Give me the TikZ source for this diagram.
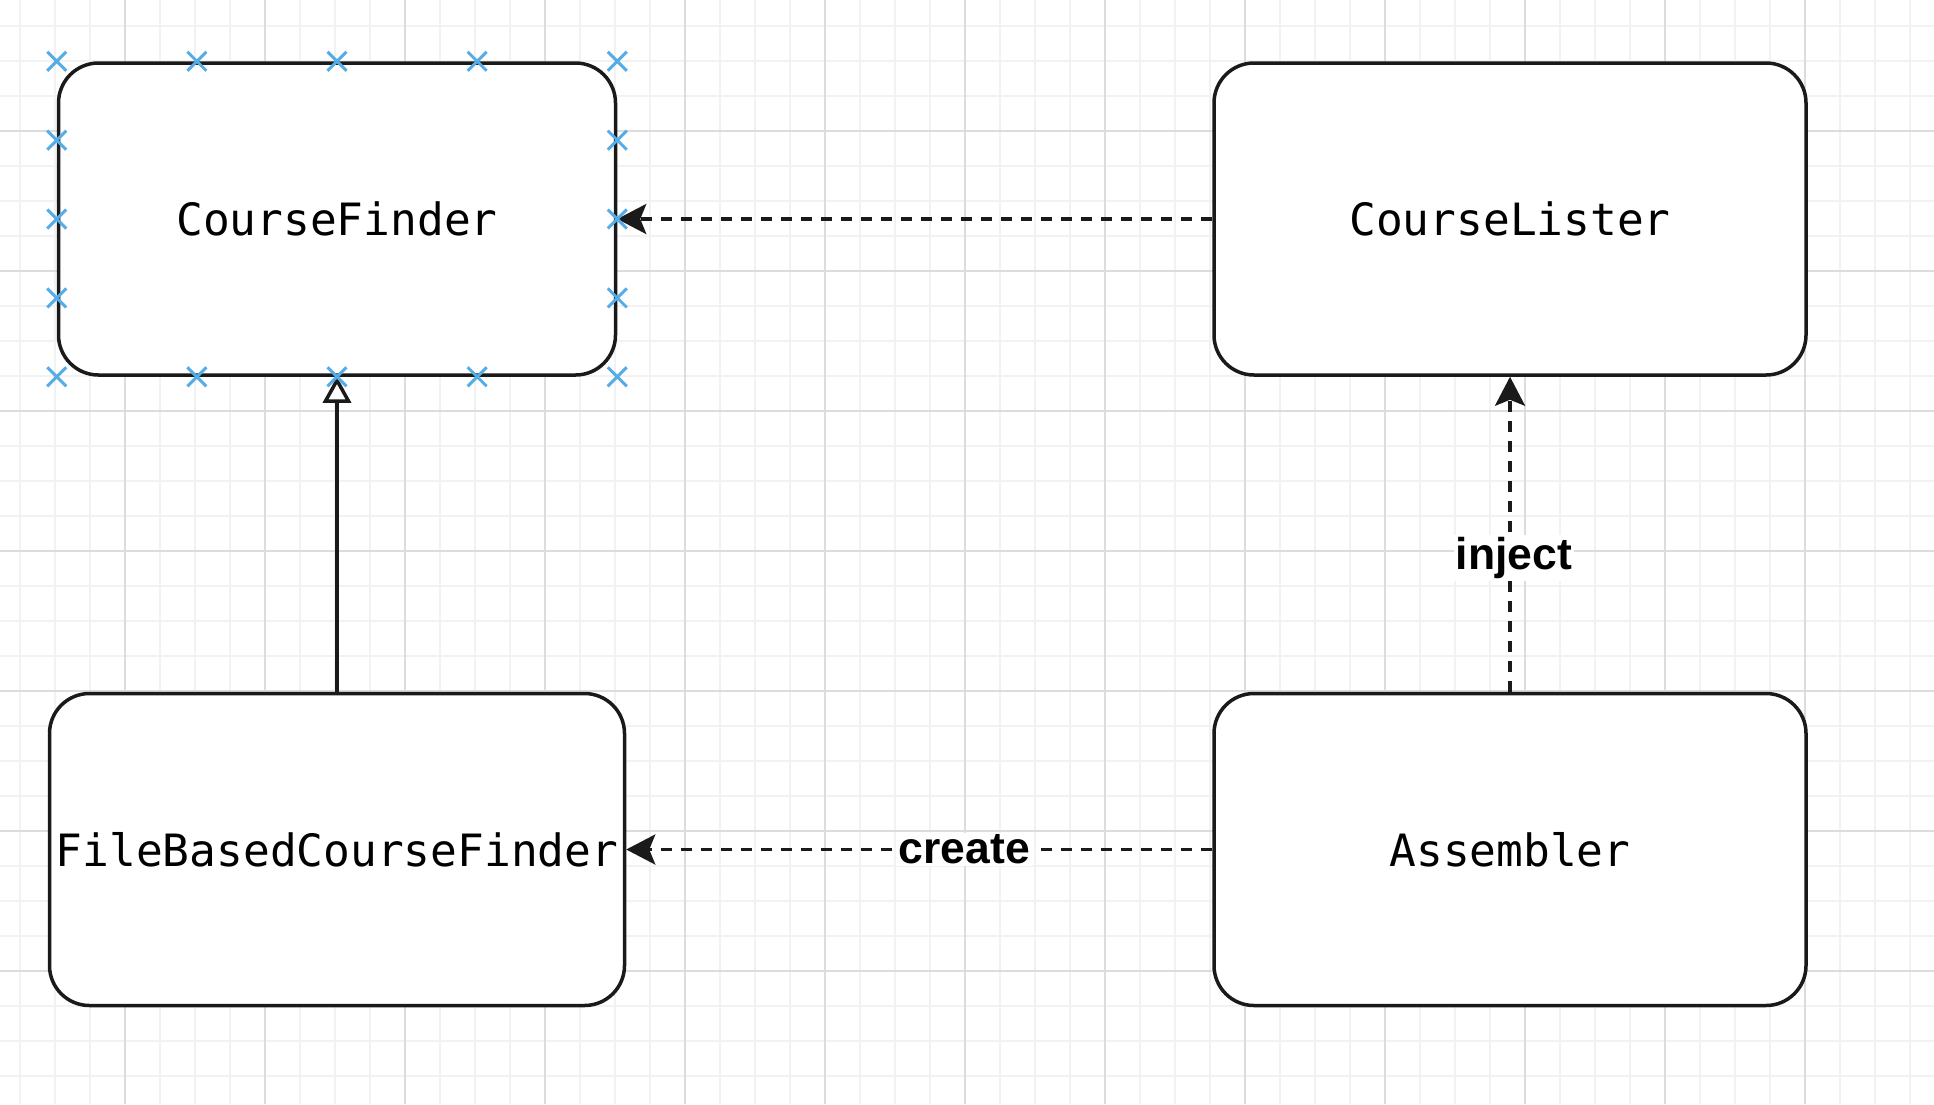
\documentclass[tikz,border=0pt]{standalone}
\usepackage{fontspec}
\usepackage{xcolor}
\usepackage{tikz}
\usetikzlibrary{positioning,arrows.meta,shapes.misc,calc}
\newfontfamily\boxfont{DejaVu Sans Mono}
\newfontfamily\lblfont{Liberation Sans}
\definecolor{blk}{HTML}{1A1A1A}
\definecolor{selblue}{HTML}{55ACE6}
\definecolor{gridmin}{HTML}{F2F2F2}
\definecolor{gridmaj}{HTML}{DCDCDC}
\tikzset{
  box/.style={draw=blk, line width=3.5pt, rounded corners=40pt, fill=white, minimum height=312pt,
              align=center, font={\boxfont\fontsize{44.5}{53}\selectfont}},
  lbl/.style={fill=white, inner sep=2pt, font={\lblfont\bfseries\fontsize{44.5}{53}\selectfont}},
  dep/.style={draw=blk, line width=3.5pt, dash pattern=on 11pt off 9pt,
              -{Stealth[length=29pt,width=30pt,inset=6pt]}},
  inh/.style={draw=blk, line width=3.5pt, -{Triangle[open,length=26pt,width=28pt,fill=white]}},
  handle/.style={cross out, draw=selblue, line width=3pt, minimum size=16pt, inner sep=0pt},
  gmin/.style={draw=gridmin, line width=2pt},
  gmaj/.style={draw=gridmaj, line width=2pt},
}
\begin{document}
\begin{tikzpicture}[x=1pt, y=-1pt, node distance=315pt and 595pt]
  \useasboundingbox (0,0) rectangle (1934,1104);
  \fill[white] (0,0) rectangle (1934,1104);
  \foreach \x in {20,55,...,1934} \draw[gmin] (\x,0) -- (\x,1104);
  \foreach \y in {26,61,...,1104} \draw[gmin] (0,\y) -- (1934,\y);
  \foreach \x in {125,265,...,1934} \draw[gmaj] (\x,0) -- (\x,1104);
  \foreach \y in {131,271,...,1104} \draw[gmaj] (0,\y) -- (1934,\y);

  \node[box, minimum width=557pt] (cf) at (337,219) {CourseFinder};
  \node[box, minimum width=592pt, right=of cf] (cl) {CourseLister};
  \node[box, minimum width=575pt, below=of cf] (fb) {FileBasedCourseFinder};
  \node[box, minimum width=592pt, below=of cl] (asm) {Assembler};

  \draw[dep] (cl.west) -- (cf.east);
  \draw[dep] (asm.north) -- node[lbl, pos=0.425, xshift=4pt] (inj) {inject} (cl.south);
  \draw[dep] (asm.west) -- node[lbl, pos=0.423] (crt) {create} (fb.east);
  \draw[inh] (fb.north) -- (cf.south);

  \foreach \t [count=\i] in {0,0.25,0.5,0.75,1} {
    \node[handle] (ht\i) at ($(cf.north west)!\t!(cf.north east)$) {};
    \node[handle] (hb\i) at ($(cf.south west)!\t!(cf.south east)$) {};
  }
  \foreach \t [count=\i] in {0.25,0.5,0.75} {
    \node[handle] (hl\i) at ($(cf.north west)!\t!(cf.south west)$) {};
    \node[handle] (hr\i) at ($(cf.north east)!\t!(cf.south east)$) {};
  }
\end{tikzpicture}
\end{document}
